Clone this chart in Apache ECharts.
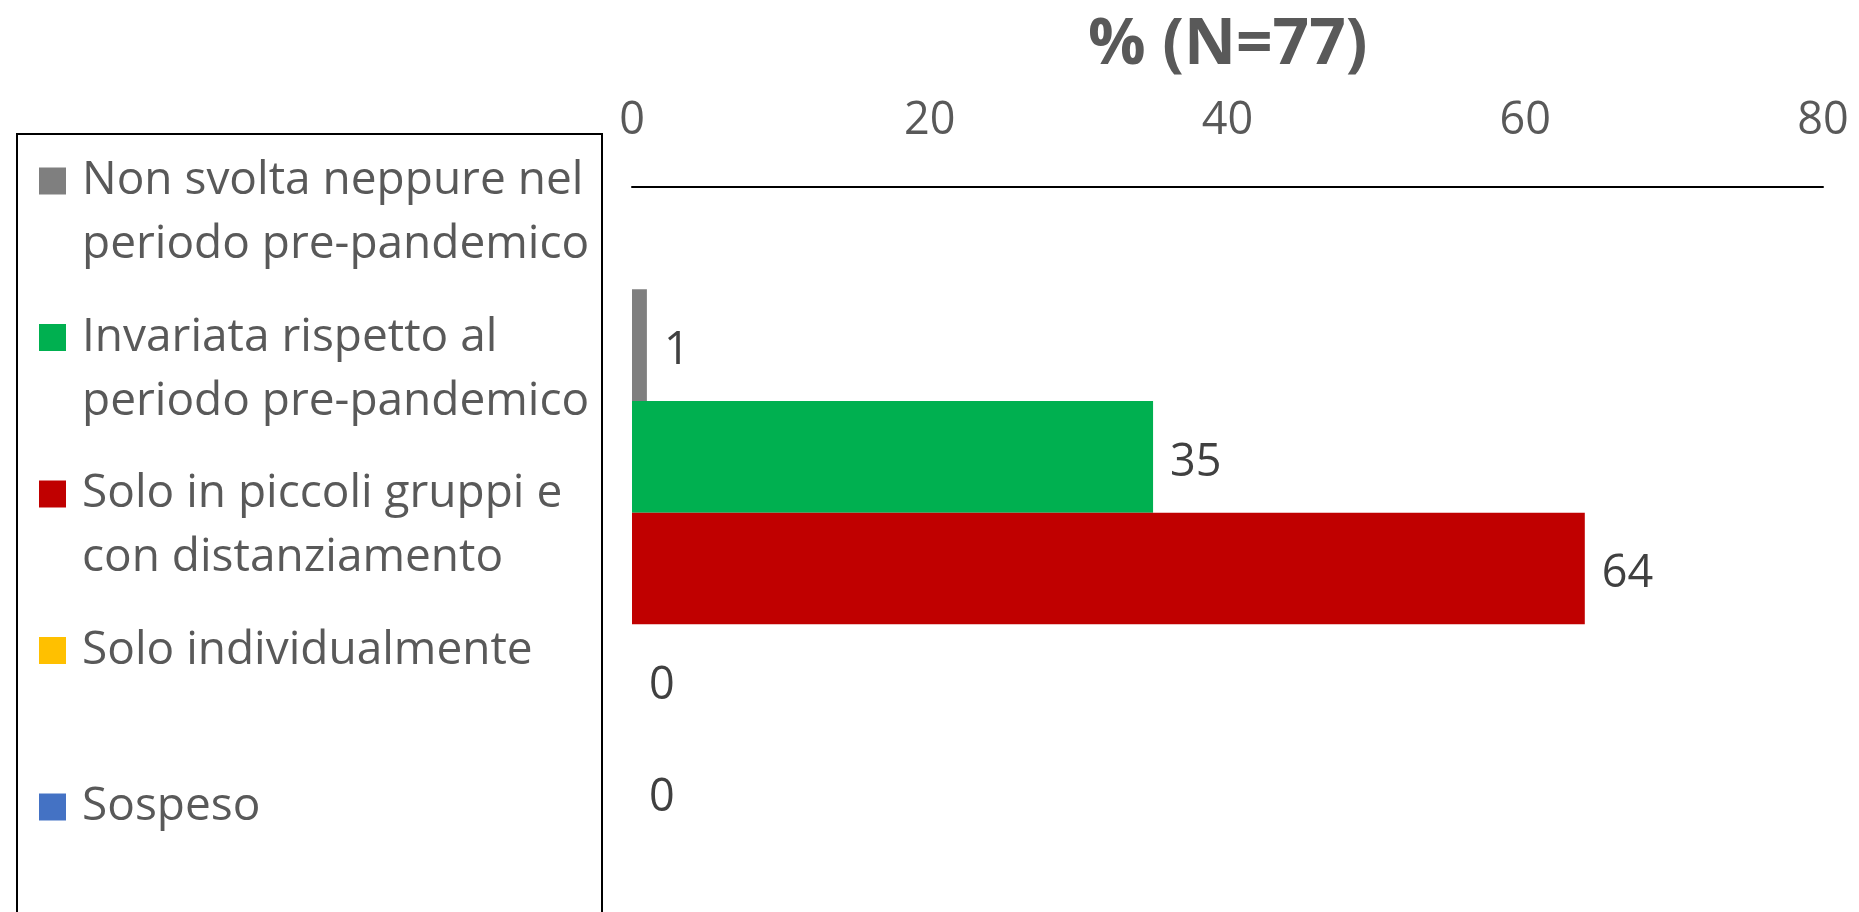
<!DOCTYPE html>
<html>
<head>
<meta charset="utf-8">
<script src="https://cdn.jsdelivr.net/npm/echarts@6/dist/echarts.min.js"></script>
<style>
  html, body { margin: 0; padding: 0; background: #fff; }
  #chart { width: 1859px; height: 912px; }
</style>
</head>
<body>
<div id="chart"></div>
<script>
// Response categories (series) and their percentages
const seriesNames = [
  'Non svolta neppure nel periodo pre-pandemico',
  'Invariata rispetto al periodo pre-pandemico',
  'Solo in piccoli gruppi e con distanziamento',
  'Solo individualmente',
  'Sospeso'
];
// Legend text, one or two lines per entry
const legendLines = [
  ['Non svolta neppure nel', 'periodo pre-pandemico'],
  ['Invariata rispetto al', 'periodo pre-pandemico'],
  ['Solo in piccoli gruppi e', 'con distanziamento'],
  ['Solo individualmente', ''],
  ['Sospeso', '']
];
const values = [1, 35, 64, 0, 0];
const colors = ['#7F7F7F', '#00B050', '#C00000', '#FFC000', '#4472C4'];
const categories = [''];
const axisTicks = [0, 20, 40, 60, 80];
const titleText = '% (N=77)';

const FONT = '"Open Sans", "Noto Sans", sans-serif';

const chart = echarts.init(document.getElementById('chart'), null, { renderer: 'canvas' });

// The legend marker sits beside the first text line: an empty leading line
// keeps that first line on the marker's centre.
const legendMap = {};
seriesNames.forEach((n, i) => {
  legendMap[n] = '\n' + legendLines[i].join('\n');
});

const option = {
  backgroundColor: '#ffffff',
  animation: false,
  title: {
    text: titleText,
    left: 1088,
    top: 14,
    padding: 0,
    textStyle: { fontFamily: FONT, fontWeight: 'bold', fontSize: 64, color: '#595959' }
  },
  legend: {
    orient: 'vertical',
    left: 39,
    top: 85,
    padding: 0,
    itemGap: -35.5,
    itemWidth: 27,
    itemHeight: 27,
    icon: 'rect',
    data: seriesNames,
    formatter: (name) => legendMap[name],
    textStyle: {
      fontFamily: FONT,
      fontSize: 46,
      color: '#595959',
      lineHeight: 64,
      padding: [0, 0, 0, 11]
    }
  },
  graphic: [{
    type: 'rect',
    shape: { x: 17, y: 134, width: 585, height: 900 },
    style: { fill: 'none', stroke: '#000000', lineWidth: 2 },
    silent: true
  }],
  grid: {
    left: 632,
    top: 187,
    width: 1191,
    height: 763,
    containLabel: false,
    outerBoundsMode: 'none'
  },
  xAxis: {
    type: 'value',
    position: 'top',
    min: axisTicks[0],
    max: axisTicks[axisTicks.length - 1],
    interval: axisTicks[1] - axisTicks[0],
    axisLine: { show: true, lineStyle: { color: '#000000', width: 2 } },
    axisTick: { show: false },
    splitLine: { show: false },
    axisLabel: {
      margin: 43,
      fontFamily: FONT,
      fontSize: 45,
      color: '#595959'
    }
  },
  yAxis: {
    type: 'category',
    data: categories,
    axisLine: { show: false },
    axisTick: { show: false },
    axisLabel: { show: false }
  },
  series: seriesNames.map((name, i) => ({
    name: name,
    type: 'bar',
    data: [values[i]],
    barWidth: 111.7,
    barGap: '0%',
    itemStyle: { color: colors[i] },
    label: {
      show: true,
      position: 'right',
      distance: 17,
      offset: [0, 6],
      fontFamily: FONT,
      fontSize: 45,
      color: '#404040'
    }
  }))
};

chart.setOption(option);
</script>
</body>
</html>
